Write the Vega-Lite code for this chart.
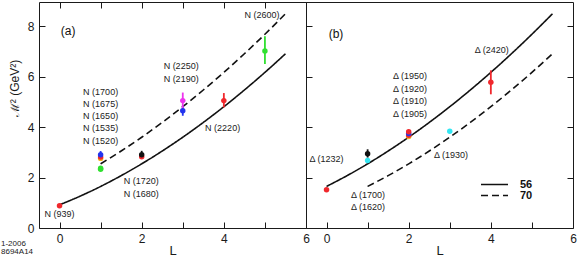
{
  "$schema": "https://vega.github.io/schema/vega-lite/v6.json",
  "padding": {"left": 1, "top": 1, "right": 0, "bottom": 0},
  "spacing": 0,
  "bounds": "flush",
  "title": {"text": ["1-2006", "8694A14"], "orient": "bottom", "anchor": "start", "frame": "bounds", "fontSize": 8, "fontWeight": "normal", "font": "Liberation Sans", "color": "#222222", "offset": -18, "lineHeight": 8.5, "dx": -6.5},
  "datasets": {
    "curves": [
      {"panel": "a", "curve": "a56", "mult": "56", "L": 0, "M2": 0.918},
      {"panel": "a", "curve": "a56", "mult": "56", "L": 0.5, "M2": 1.262},
      {"panel": "a", "curve": "a56", "mult": "56", "L": 1, "M2": 1.648},
      {"panel": "a", "curve": "a56", "mult": "56", "L": 1.5, "M2": 2.076},
      {"panel": "a", "curve": "a56", "mult": "56", "L": 2, "M2": 2.544},
      {"panel": "a", "curve": "a56", "mult": "56", "L": 2.5, "M2": 3.052},
      {"panel": "a", "curve": "a56", "mult": "56", "L": 3, "M2": 3.599},
      {"panel": "a", "curve": "a56", "mult": "56", "L": 3.5, "M2": 4.185},
      {"panel": "a", "curve": "a56", "mult": "56", "L": 4, "M2": 4.809},
      {"panel": "a", "curve": "a56", "mult": "56", "L": 4.5, "M2": 5.471},
      {"panel": "a", "curve": "a56", "mult": "56", "L": 5, "M2": 6.170},
      {"panel": "a", "curve": "a56", "mult": "56", "L": 5.5, "M2": 6.907},
      {"panel": "a", "curve": "a70", "mult": "70", "L": 1, "M2": 2.544},
      {"panel": "a", "curve": "a70", "mult": "70", "L": 1.5, "M2": 3.052},
      {"panel": "a", "curve": "a70", "mult": "70", "L": 2, "M2": 3.599},
      {"panel": "a", "curve": "a70", "mult": "70", "L": 2.5, "M2": 4.185},
      {"panel": "a", "curve": "a70", "mult": "70", "L": 3, "M2": 4.809},
      {"panel": "a", "curve": "a70", "mult": "70", "L": 3.5, "M2": 5.471},
      {"panel": "a", "curve": "a70", "mult": "70", "L": 4, "M2": 6.170},
      {"panel": "a", "curve": "a70", "mult": "70", "L": 4.5, "M2": 6.907},
      {"panel": "a", "curve": "a70", "mult": "70", "L": 5, "M2": 7.682},
      {"panel": "a", "curve": "a70", "mult": "70", "L": 5.5, "M2": 8.493},
      {"panel": "b", "curve": "b56", "mult": "56", "L": 0, "M2": 1.648},
      {"panel": "b", "curve": "b56", "mult": "56", "L": 0.5, "M2": 2.076},
      {"panel": "b", "curve": "b56", "mult": "56", "L": 1, "M2": 2.544},
      {"panel": "b", "curve": "b56", "mult": "56", "L": 1.5, "M2": 3.052},
      {"panel": "b", "curve": "b56", "mult": "56", "L": 2, "M2": 3.599},
      {"panel": "b", "curve": "b56", "mult": "56", "L": 2.5, "M2": 4.185},
      {"panel": "b", "curve": "b56", "mult": "56", "L": 3, "M2": 4.809},
      {"panel": "b", "curve": "b56", "mult": "56", "L": 3.5, "M2": 5.471},
      {"panel": "b", "curve": "b56", "mult": "56", "L": 4, "M2": 6.170},
      {"panel": "b", "curve": "b56", "mult": "56", "L": 4.5, "M2": 6.907},
      {"panel": "b", "curve": "b56", "mult": "56", "L": 5, "M2": 7.682},
      {"panel": "b", "curve": "b56", "mult": "56", "L": 5.5, "M2": 8.493},
      {"panel": "b", "curve": "b70", "mult": "70", "L": 1, "M2": 1.648},
      {"panel": "b", "curve": "b70", "mult": "70", "L": 1.5, "M2": 2.076},
      {"panel": "b", "curve": "b70", "mult": "70", "L": 2, "M2": 2.544},
      {"panel": "b", "curve": "b70", "mult": "70", "L": 2.5, "M2": 3.052},
      {"panel": "b", "curve": "b70", "mult": "70", "L": 3, "M2": 3.599},
      {"panel": "b", "curve": "b70", "mult": "70", "L": 3.5, "M2": 4.185},
      {"panel": "b", "curve": "b70", "mult": "70", "L": 4, "M2": 4.809},
      {"panel": "b", "curve": "b70", "mult": "70", "L": 4.5, "M2": 5.471},
      {"panel": "b", "curve": "b70", "mult": "70", "L": 5, "M2": 6.170},
      {"panel": "b", "curve": "b70", "mult": "70", "L": 5.5, "M2": 6.907}
    ],
    "pts": [
      {"panel": "a", "state": "N(939)", "L": 0, "M2": 0.88},
      {"panel": "a", "state": "N(1520)", "L": 1, "M2": 2.33},
      {"panel": "a", "state": "N(1535)", "L": 1, "M2": 2.37},
      {"panel": "a", "state": "N(1650)", "L": 1, "M2": 2.76},
      {"panel": "a", "state": "N(1675)", "L": 1, "M2": 2.81},
      {"panel": "a", "state": "N(1700)", "L": 1, "M2": 2.9, "lo": 2.75, "hi": 3.05},
      {"panel": "a", "state": "N(1680)", "L": 2, "M2": 2.82},
      {"panel": "a", "state": "N(1720)", "L": 2, "M2": 2.9, "lo": 2.76, "hi": 3.06},
      {"panel": "a", "state": "N(2190)", "L": 3, "M2": 4.65, "lo": 4.45, "hi": 4.85},
      {"panel": "a", "state": "N(2250)", "L": 3, "M2": 5.05, "lo": 4.72, "hi": 5.37},
      {"panel": "a", "state": "N(2220)", "L": 4, "M2": 5.05, "lo": 4.78, "hi": 5.35},
      {"panel": "a", "state": "N(2600)", "L": 5, "M2": 7.02, "lo": 6.5, "hi": 7.6},
      {"panel": "b", "state": "Δ(1232)", "L": 0, "M2": 1.52},
      {"panel": "b", "state": "Δ(1620)", "L": 1, "M2": 2.68},
      {"panel": "b", "state": "Δ(1700)", "L": 1, "M2": 2.94, "lo": 2.79, "hi": 3.12},
      {"panel": "b", "state": "Δ(1905)", "L": 2, "M2": 3.63},
      {"panel": "b", "state": "Δ(1910)", "L": 2, "M2": 3.68},
      {"panel": "b", "state": "Δ(1920)", "L": 2, "M2": 3.75},
      {"panel": "b", "state": "Δ(1950)", "L": 2, "M2": 3.82},
      {"panel": "b", "state": "Δ(1930)", "L": 3, "M2": 3.84},
      {"panel": "b", "state": "Δ(2420)", "L": 4, "M2": 5.78, "lo": 5.3, "hi": 6.25}
    ],
    "labels": [
      {"panel": "a", "text": "N (939)", "L": 0, "M2": 0.56},
      {"panel": "a", "text": "N (1700)", "L": 1, "M2": 5.41},
      {"panel": "a", "text": "N (1675)", "L": 1, "M2": 4.93},
      {"panel": "a", "text": "N (1650)", "L": 1, "M2": 4.44},
      {"panel": "a", "text": "N (1535)", "L": 1, "M2": 3.95},
      {"panel": "a", "text": "N (1520)", "L": 1, "M2": 3.46},
      {"panel": "a", "text": "N (1720)", "L": 1.99, "M2": 1.87},
      {"panel": "a", "text": "N (1680)", "L": 1.99, "M2": 1.36},
      {"panel": "a", "text": "N (2250)", "L": 2.96, "M2": 6.41},
      {"panel": "a", "text": "N (2190)", "L": 2.96, "M2": 5.91},
      {"panel": "a", "text": "N (2220)", "L": 3.97, "M2": 3.97},
      {"panel": "a", "text": "N (2600)", "L": 4.93, "M2": 8.46},
      {"panel": "b", "text": "Δ (1232)", "L": 0, "M2": 2.73},
      {"panel": "b", "text": "Δ (1950)", "L": 2.03, "M2": 6.04},
      {"panel": "b", "text": "Δ (1920)", "L": 2.03, "M2": 5.52},
      {"panel": "b", "text": "Δ (1910)", "L": 2.03, "M2": 5.02},
      {"panel": "b", "text": "Δ (1905)", "L": 2.03, "M2": 4.52},
      {"panel": "b", "text": "Δ (1930)", "L": 3.03, "M2": 2.9},
      {"panel": "b", "text": "Δ (2420)", "L": 4.02, "M2": 7.06},
      {"panel": "b", "text": "Δ (1700)", "L": 1.01, "M2": 1.31},
      {"panel": "b", "text": "Δ (1620)", "L": 1.01, "M2": 0.83}
    ],
    "tags": [
      {"panel": "a", "text": "(a)", "L": 0.21, "M2": 7.83},
      {"panel": "b", "text": "(b)", "L": 0.23, "M2": 7.7}
    ]
  },
  "hconcat": [
    {
      "width": 267,
      "height": 226,
      "resolve": {"axis": {"x": "independent", "y": "independent"}},
      "layer": [
        {
          "data": {"name": "curves"},
          "transform": [{"filter": "datum.panel == 'a'"}],
          "mark": {"type": "line", "color": "#111111", "strokeWidth": 1.6, "interpolate": "monotone"},
          "encoding": {
            "x": {"field": "L", "type": "quantitative", "scale": {"domain": [-0.5, 6], "nice": false, "zero": false},
                  "axis": {"orient": "bottom", "title": "L", "values": [0, 1, 2, 3, 4, 5, 6], "labelExpr": "datum.value % 2 == 0 ? datum.label : ''", "titlePadding": 0}},
            "y": {"field": "M2", "type": "quantitative", "scale": {"domain": [0, 8.96], "nice": false, "zero": false},
                  "axis": {"orient": "left", "title": "ℳ²  (GeV²)", "values": [0, 2, 4, 6, 8], "titleX": -25, "titleY": 86, "titleAlign": "center", "titleBaseline": "middle", "titleAngle": 270, "titleFontSize": 12}},
            "detail": {"field": "curve", "type": "nominal"},
            "strokeDash": {"field": "mult", "type": "nominal", "scale": {"domain": ["56", "70"], "range": [[1, 0], [7, 4]]},
                           "legend": {"title": null, "orient": "none", "legendX": 450, "legendY": 177, "symbolType": "M-4.5,0H4.5", "symbolSize": 36, "symbolStrokeWidth": 1.5, "symbolStrokeColor": "#111111", "symbolFillColor": "transparent", "labelFontSize": 11, "labelFontWeight": "bold", "labelOffset": 20, "padding": 0, "rowPadding": -1, "labelColor": "#111111"}}
          }
        },
        {
          "data": {"name": "pts"},
          "transform": [{"filter": "datum.panel == 'a' && isValid(datum.lo)"}],
          "mark": {"type": "rule", "strokeWidth": 1.8},
          "encoding": {
            "x": {"field": "L", "type": "quantitative", "axis": null},
            "y": {"field": "lo", "type": "quantitative", "axis": null},
            "y2": {"field": "hi"},
            "color": {"field": "state", "type": "nominal", "legend": null,
                      "scale": {"domain": ["N(939)", "N(1520)", "N(1535)", "N(1650)", "N(1675)", "N(1700)", "N(1680)", "N(1720)", "N(2190)", "N(2250)", "N(2220)", "N(2600)", "Δ(1232)", "Δ(1620)", "Δ(1700)", "Δ(1905)", "Δ(1910)", "Δ(1920)", "Δ(1950)", "Δ(1930)", "Δ(2420)"],
                                "range": ["#f0282d", "#30e030", "#30e030", "#f2b21c", "#f0282d", "#2233ee", "#f0282d", "#111111", "#2233ee", "#ee33ee", "#f0282d", "#30e030", "#f0282d", "#33e6f2", "#111111", "#f2b21c", "#f0282d", "#2233ee", "#f0282d", "#33e6f2", "#f0282d"]}}
          }
        },
        {
          "data": {"name": "pts"},
          "transform": [{"filter": "datum.panel == 'a'"}],
          "mark": {"type": "circle", "size": 30, "opacity": 1},
          "encoding": {
            "x": {"field": "L", "type": "quantitative", "axis": null},
            "y": {"field": "M2", "type": "quantitative", "axis": null},
            "color": {"field": "state", "type": "nominal", "legend": null}
          }
        },
        {
          "data": {"name": "labels"},
          "transform": [{"filter": "datum.panel == 'a'"}],
          "mark": {"type": "text", "fontSize": 9, "font": "Liberation Sans", "color": "#222222", "align": "center", "baseline": "middle"},
          "encoding": {
            "x": {"field": "L", "type": "quantitative", "axis": null},
            "y": {"field": "M2", "type": "quantitative", "axis": null},
            "text": {"field": "text"}
          }
        },
        {
          "data": {"name": "tags"},
          "transform": [{"filter": "datum.panel == 'a'"}],
          "mark": {"type": "text", "fontSize": 12, "font": "Liberation Sans", "color": "#111111", "align": "center", "baseline": "middle"},
          "encoding": {
            "x": {"field": "L", "type": "quantitative", "axis": {"orient": "top", "title": null, "labels": false, "values": [0, 1, 2, 3, 4, 5, 6]}},
            "y": {"field": "M2", "type": "quantitative", "axis": null},
            "text": {"field": "text"}
          }
        }
      ]
    },
    {
      "width": 267,
      "height": 226,
      "resolve": {"axis": {"x": "independent", "y": "independent"}},
      "layer": [
        {
          "data": {"name": "curves"},
          "transform": [{"filter": "datum.panel == 'b'"}],
          "mark": {"type": "line", "color": "#111111", "strokeWidth": 1.6, "interpolate": "monotone"},
          "encoding": {
            "x": {"field": "L", "type": "quantitative", "scale": {"domain": [-0.5, 6], "nice": false, "zero": false},
                  "axis": {"orient": "bottom", "title": "L", "values": [0, 1, 2, 3, 4, 5, 6], "labelExpr": "datum.value % 2 == 0 ? datum.label : ''", "titlePadding": 0}},
            "y": {"field": "M2", "type": "quantitative", "scale": {"domain": [0, 8.96], "nice": false, "zero": false},
                  "axis": {"orient": "left", "title": null, "labels": false, "values": [2, 4, 6, 8], "minExtent": 0, "maxExtent": 0}},
            "detail": {"field": "curve", "type": "nominal"},
            "strokeDash": {"field": "mult", "type": "nominal", "scale": {"domain": ["56", "70"], "range": [[1, 0], [7, 4]]},
                           "legend": {"title": null, "orient": "none", "legendX": 450, "legendY": 177, "symbolType": "M-4.5,0H4.5", "symbolSize": 36, "symbolStrokeWidth": 1.5, "symbolStrokeColor": "#111111", "symbolFillColor": "transparent", "labelFontSize": 11, "labelFontWeight": "bold", "labelOffset": 20, "padding": 0, "rowPadding": -1, "labelColor": "#111111"}}
          }
        },
        {
          "data": {"name": "pts"},
          "transform": [{"filter": "datum.panel == 'b' && isValid(datum.lo)"}],
          "mark": {"type": "rule", "strokeWidth": 1.8},
          "encoding": {
            "x": {"field": "L", "type": "quantitative", "axis": null},
            "y": {"field": "lo", "type": "quantitative", "axis": null},
            "y2": {"field": "hi"},
            "color": {"field": "state", "type": "nominal", "legend": null}
          }
        },
        {
          "data": {"name": "pts"},
          "transform": [{"filter": "datum.panel == 'b'"}],
          "mark": {"type": "circle", "size": 30, "opacity": 1},
          "encoding": {
            "x": {"field": "L", "type": "quantitative", "axis": null},
            "y": {"field": "M2", "type": "quantitative", "axis": null},
            "color": {"field": "state", "type": "nominal", "legend": null}
          }
        },
        {
          "data": {"name": "labels"},
          "transform": [{"filter": "datum.panel == 'b'"}],
          "mark": {"type": "text", "fontSize": 9, "font": "Liberation Sans", "color": "#222222", "align": "center", "baseline": "middle"},
          "encoding": {
            "x": {"field": "L", "type": "quantitative", "axis": null},
            "y": {"field": "M2", "type": "quantitative", "axis": null},
            "text": {"field": "text"}
          }
        },
        {
          "data": {"name": "tags"},
          "transform": [{"filter": "datum.panel == 'b'"}],
          "mark": {"type": "text", "fontSize": 12, "font": "Liberation Sans", "color": "#111111", "align": "center", "baseline": "middle"},
          "encoding": {
            "x": {"field": "L", "type": "quantitative", "axis": null},
            "y": {"field": "M2", "type": "quantitative", "axis": {"orient": "right", "title": null, "labels": false, "values": [2, 4, 6, 8]}},
            "text": {"field": "text"}
          }
        }
      ]
    }
  ],
  "resolve": {"scale": {"color": "shared"}},
  "config": {
    "font": "Liberation Sans",
    "view": {"stroke": "#1a1a1a", "strokeWidth": 1},
    "axis": {"domain": false, "grid": false, "tickSize": -6, "tickColor": "#1a1a1a", "tickWidth": 1, "labelFontSize": 12, "labelColor": "#1a1a1a", "labelPadding": 11, "labelFlush": false, "labelOverlap": false, "labelBound": false, "titleFontSize": 13, "titleFontWeight": "normal", "titleColor": "#1a1a1a", "labelFont": "Liberation Sans", "titleFont": "Liberation Sans"}
  }
}
